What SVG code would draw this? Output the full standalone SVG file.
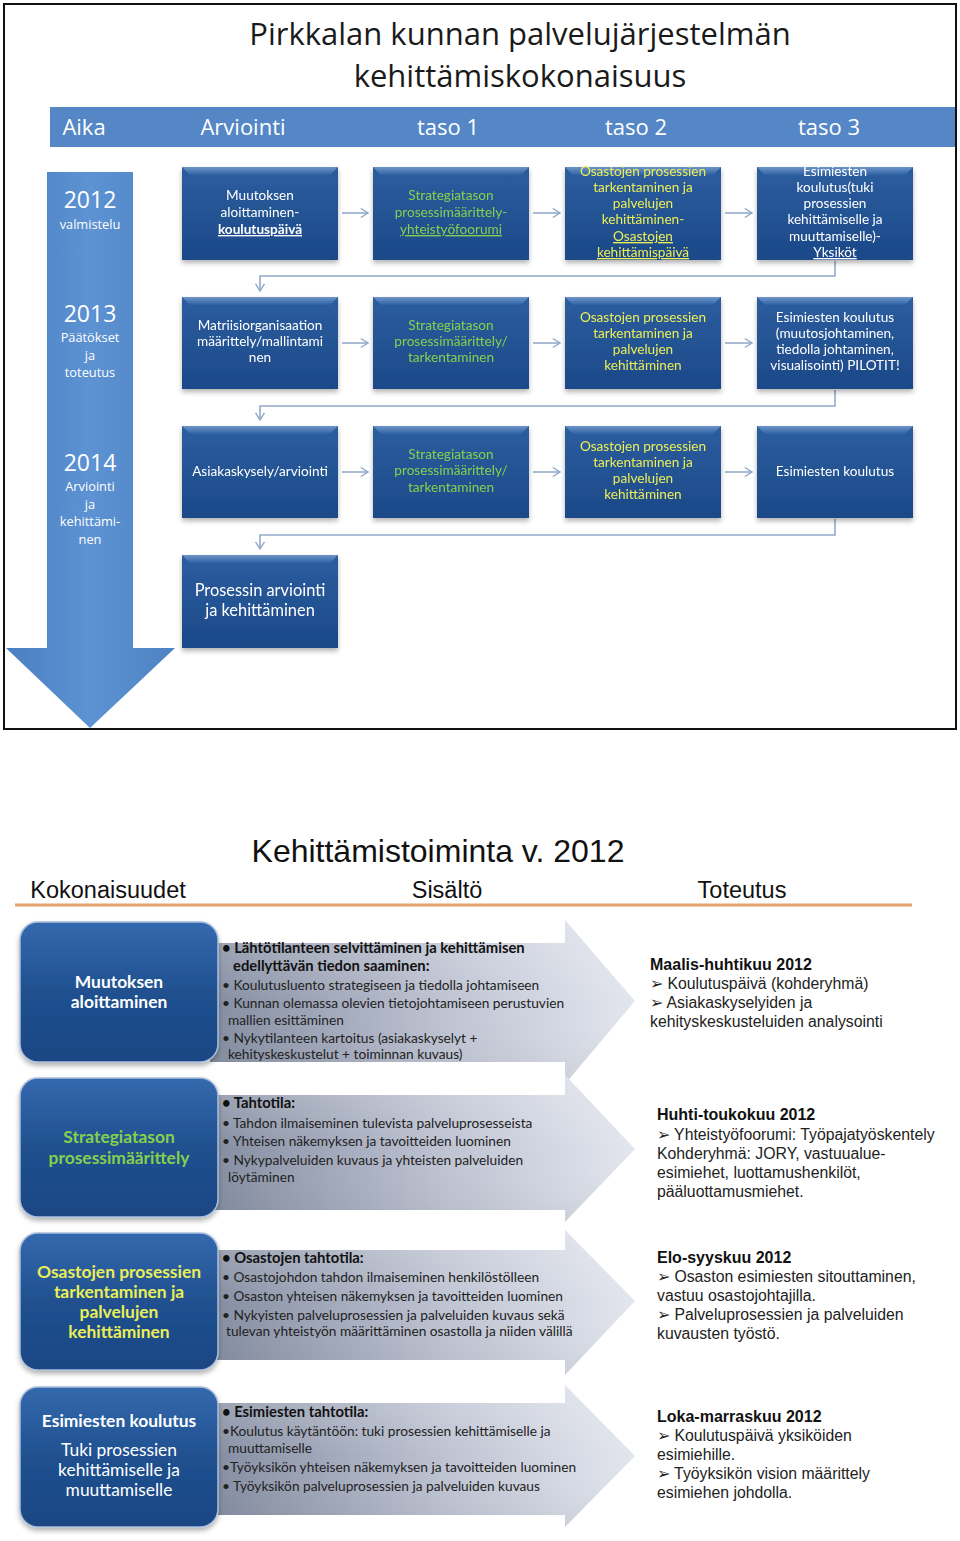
<svg xmlns="http://www.w3.org/2000/svg" width="960" height="1541" viewBox="0 0 960 1541">
<style>
.title{font-family:"Open Sans","Lato",sans-serif;font-size:31px;fill:#1a1a1a;text-anchor:middle}
.hdr{font-family:"Open Sans","Lato",sans-serif;font-size:22px;fill:#ffffff;text-anchor:middle}
.yr{font-family:"Open Sans","Lato",sans-serif;font-size:23px;fill:#ffffff;text-anchor:middle}
.yrs{font-family:"Open Sans","Lato",sans-serif;font-size:12.8px;fill:#ffffff;text-anchor:middle}
.bt{font-family:"Lato","Open Sans",sans-serif;font-size:13.6px;text-anchor:middle}
.big{font-size:16.4px}
.w{fill:#ffffff}.g{fill:#86cf4e}.y{fill:#ebee57}
.u{text-decoration:underline}
.conn{fill:none;stroke:#93aacb;stroke-width:1.6}
.t2{font-family:"Liberation Sans",Arial,sans-serif;fill:#111111}
.col{font-family:"Liberation Sans",Arial,sans-serif;font-size:23.5px;fill:#111;text-anchor:middle}
.at{font-family:"Lato","Open Sans",sans-serif;font-size:13.7px;fill:#222}
.ab{font-family:"Lato","Open Sans",sans-serif;font-size:14.8px;font-weight:bold;fill:#111}
.rt{font-family:"Liberation Sans",Arial,sans-serif;font-size:15.8px;fill:#222}
.rb{font-family:"Liberation Sans",Arial,sans-serif;font-size:16px;font-weight:bold;fill:#111}
.lb{font-family:"Lato","Open Sans",sans-serif;font-size:17.4px;font-weight:bold;text-anchor:middle}
.lbn{font-family:"Lato","Open Sans",sans-serif;font-size:17.4px;text-anchor:middle;fill:#fff}
</style>
<defs>
<linearGradient id="boxg" x1="0" y1="0" x2="0" y2="1">
<stop offset="0" stop-color="#2c5e9f"/><stop offset="1" stop-color="#1c4888"/>
</linearGradient>
<linearGradient id="bev" x1="0" y1="0" x2="0" y2="1">
<stop offset="0" stop-color="#6e95c8"/><stop offset="1" stop-color="#2f62a3"/>
</linearGradient>
<linearGradient id="vg" x1="0" y1="0" x2="1" y2="0">
<stop offset="0" stop-color="#4a7fc1"/><stop offset="0.5" stop-color="#5d92d3"/><stop offset="1" stop-color="#4d82c3"/>
</linearGradient>
<linearGradient id="rbox" x1="0" y1="0" x2="0" y2="1">
<stop offset="0" stop-color="#3469ae"/><stop offset="0.5" stop-color="#20508f"/><stop offset="1" stop-color="#1b4684"/>
</linearGradient>
<linearGradient id="arr" gradientUnits="userSpaceOnUse" x1="218" y1="0" x2="635" y2="0">
<stop offset="0" stop-color="#868fa3"/><stop offset="0.55" stop-color="#bfc4d3"/><stop offset="1" stop-color="#e3e6ee"/>
</linearGradient>
<linearGradient id="sheen" x1="0" y1="0" x2="0" y2="1">
<stop offset="0" stop-color="#ffffff" stop-opacity="0.25"/><stop offset="0.5" stop-color="#ffffff" stop-opacity="0"/><stop offset="1" stop-color="#000000" stop-opacity="0.05"/>
</linearGradient>
<filter id="sh" x="-10%" y="-10%" width="120%" height="130%">
<feDropShadow dx="0" dy="3" stdDeviation="2.5" flood-color="#000" flood-opacity="0.3"/>
</filter>
<marker id="chev" viewBox="0 0 10 12" refX="9" refY="6" markerWidth="9" markerHeight="11" orient="auto" markerUnits="userSpaceOnUse">
<path d="M1,1 L9,6 L1,11" fill="none" stroke="#93aacb" stroke-width="1.6"/>
</marker>
</defs>
<rect width="960" height="1541" fill="#ffffff"/>

<!-- TOP PANEL -->
<rect x="4" y="4" width="952" height="725" fill="#ffffff" stroke="#111" stroke-width="2"/>
<text class="title" x="520" y="45">Pirkkalan kunnan palvelujärjestelmän</text>
<text class="title" x="520" y="87">kehittämiskokonaisuus</text>

<g id="header">
<rect x="50" y="107" width="905" height="40" fill="#5586c6"/>
<text class="hdr" x="84" y="135">Aika</text>
<text class="hdr" x="243" y="135">Arviointi</text>
<text class="hdr" x="448" y="135">taso 1</text>
<text class="hdr" x="636" y="135">taso 2</text>
<text class="hdr" x="829" y="135">taso 3</text>
</g>

<g id="timeline">
<polygon points="47,172 133,172 133,648 175,648 90,728 6,648 47,648" fill="url(#vg)"/>
<text class="yr" x="90" y="208">2012</text>
<text class="yrs" x="90" y="229">valmistelu</text>
<text class="yr" x="90" y="322">2013</text>
<text class="yrs" x="90" y="342">Päätökset</text>
<text class="yrs" x="90" y="360">ja</text>
<text class="yrs" x="90" y="377">toteutus</text>
<text class="yr" x="90" y="471">2014</text>
<text class="yrs" x="90" y="491">Arviointi</text>
<text class="yrs" x="90" y="509">ja</text>
<text class="yrs" x="90" y="526">kehittämi-</text>
<text class="yrs" x="90" y="544">nen</text>
</g>

<g id="connectors">
<line class="conn" x1="342" y1="213" x2="368" y2="213" marker-end="url(#chev)"/>
<line class="conn" x1="533" y1="213" x2="560" y2="213" marker-end="url(#chev)"/>
<line class="conn" x1="725" y1="213" x2="752" y2="213" marker-end="url(#chev)"/>
<line class="conn" x1="342" y1="343" x2="368" y2="343" marker-end="url(#chev)"/>
<line class="conn" x1="533" y1="343" x2="560" y2="343" marker-end="url(#chev)"/>
<line class="conn" x1="725" y1="343" x2="752" y2="343" marker-end="url(#chev)"/>
<line class="conn" x1="342" y1="472" x2="368" y2="472" marker-end="url(#chev)"/>
<line class="conn" x1="533" y1="472" x2="560" y2="472" marker-end="url(#chev)"/>
<line class="conn" x1="725" y1="472" x2="752" y2="472" marker-end="url(#chev)"/>
<path class="conn" d="M835,261 V276 H260 V291" marker-end="url(#chev)"/>
<path class="conn" d="M835,390 V406 H260 V420" marker-end="url(#chev)"/>
<path class="conn" d="M835,519 V535 H260 V549" marker-end="url(#chev)"/>
</g>

<!-- Row 1 -->
<g id="n11" filter="url(#sh)">
<rect x="182" y="167" width="156" height="93" fill="url(#boxg)"/>
<polygon points="182,167 338,167 330,175 190,175" fill="url(#bev)"/>
<text class="bt w" x="260" y="200">Muutoksen</text>
<text class="bt w" x="260" y="217">aloittaminen-</text>
<text class="bt w u" x="260" y="234" font-weight="bold">koulutuspäivä</text>
</g>
<g id="n12" filter="url(#sh)">
<rect x="373" y="167" width="156" height="93" fill="url(#boxg)"/>
<polygon points="373,167 529,167 521,175 381,175" fill="url(#bev)"/>
<text class="bt g" x="451" y="200">Strategiatason</text>
<text class="bt g" x="451" y="217">prosessimäärittely-</text>
<text class="bt g u" x="451" y="234">yhteistyöfoorumi</text>
</g>
<g id="n13" filter="url(#sh)">
<rect x="565" y="167" width="156" height="93" fill="url(#boxg)"/>
<polygon points="565,167 721,167 713,175 573,175" fill="url(#bev)"/>
<text class="bt y" x="643" y="176">Osastojen prosessien</text>
<text class="bt y" x="643" y="192">tarkentaminen ja</text>
<text class="bt y" x="643" y="208">palvelujen</text>
<text class="bt y" x="643" y="224">kehittäminen-</text>
<text class="bt y u" x="643" y="241">Osastojen</text>
<text class="bt y u" x="643" y="257">kehittämispäivä</text>
</g>
<g id="n14" filter="url(#sh)">
<rect x="757" y="167" width="156" height="93" fill="url(#boxg)"/>
<polygon points="757,167 913,167 905,175 765,175" fill="url(#bev)"/>
<text class="bt w" x="835" y="176">Esimiesten</text>
<text class="bt w" x="835" y="192">koulutus(tuki</text>
<text class="bt w" x="835" y="208">prosessien</text>
<text class="bt w" x="835" y="224">kehittämiselle ja</text>
<text class="bt w" x="835" y="241">muuttamiselle)-</text>
<text class="bt w u" x="835" y="257">Yksiköt</text>
</g>

<!-- Row 2 -->
<g id="n21" filter="url(#sh)">
<rect x="182" y="297" width="156" height="92" fill="url(#boxg)"/>
<polygon points="182,297 338,297 330,305 190,305" fill="url(#bev)"/>
<text class="bt w" x="260" y="330">Matriisiorganisaation</text>
<text class="bt w" x="260" y="346">määrittely/mallintami</text>
<text class="bt w" x="260" y="362">nen</text>
</g>
<g id="n22" filter="url(#sh)">
<rect x="373" y="297" width="156" height="92" fill="url(#boxg)"/>
<polygon points="373,297 529,297 521,305 381,305" fill="url(#bev)"/>
<text class="bt g" x="451" y="330">Strategiatason</text>
<text class="bt g" x="451" y="346">prosessimäärittely/</text>
<text class="bt g" x="451" y="362">tarkentaminen</text>
</g>
<g id="n23" filter="url(#sh)">
<rect x="565" y="297" width="156" height="92" fill="url(#boxg)"/>
<polygon points="565,297 721,297 713,305 573,305" fill="url(#bev)"/>
<text class="bt y" x="643" y="322">Osastojen prosessien</text>
<text class="bt y" x="643" y="338">tarkentaminen ja</text>
<text class="bt y" x="643" y="354">palvelujen</text>
<text class="bt y" x="643" y="370">kehittäminen</text>
</g>
<g id="n24" filter="url(#sh)">
<rect x="757" y="297" width="156" height="92" fill="url(#boxg)"/>
<polygon points="757,297 913,297 905,305 765,305" fill="url(#bev)"/>
<text class="bt w" x="835" y="322">Esimiesten koulutus</text>
<text class="bt w" x="835" y="338">(muutosjohtaminen,</text>
<text class="bt w" x="835" y="354">tiedolla johtaminen,</text>
<text class="bt w" x="835" y="370">visualisointi) PILOTIT!</text>
</g>

<!-- Row 3 -->
<g id="n31" filter="url(#sh)">
<rect x="182" y="426" width="156" height="92" fill="url(#boxg)"/>
<polygon points="182,426 338,426 330,434 190,434" fill="url(#bev)"/>
<text class="bt w" x="260" y="476">Asiakaskysely/arviointi</text>
</g>
<g id="n32" filter="url(#sh)">
<rect x="373" y="426" width="156" height="92" fill="url(#boxg)"/>
<polygon points="373,426 529,426 521,434 381,434" fill="url(#bev)"/>
<text class="bt g" x="451" y="459">Strategiatason</text>
<text class="bt g" x="451" y="475">prosessimäärittely/</text>
<text class="bt g" x="451" y="492">tarkentaminen</text>
</g>
<g id="n33" filter="url(#sh)">
<rect x="565" y="426" width="156" height="92" fill="url(#boxg)"/>
<polygon points="565,426 721,426 713,434 573,434" fill="url(#bev)"/>
<text class="bt y" x="643" y="451">Osastojen prosessien</text>
<text class="bt y" x="643" y="467">tarkentaminen ja</text>
<text class="bt y" x="643" y="483">palvelujen</text>
<text class="bt y" x="643" y="499">kehittäminen</text>
</g>
<g id="n34" filter="url(#sh)">
<rect x="757" y="426" width="156" height="92" fill="url(#boxg)"/>
<polygon points="757,426 913,426 905,434 765,434" fill="url(#bev)"/>
<text class="bt w" x="835" y="476">Esimiesten koulutus</text>
</g>

<!-- Row 4 -->
<g id="n41" filter="url(#sh)">
<rect x="182" y="555" width="156" height="93" fill="url(#boxg)"/>
<polygon points="182,555 338,555 330,563 190,563" fill="url(#bev)"/>
<text class="bt big w" x="260" y="596">Prosessin arviointi</text>
<text class="bt big w" x="260" y="616">ja kehittäminen</text>
</g>

<!-- BOTTOM PANEL -->
<text class="t2" x="438" y="862" font-size="32" text-anchor="middle">Kehittämistoiminta v. 2012</text>
<text class="col" x="108" y="898">Kokonaisuudet</text>
<text class="col" x="447" y="898">Sisältö</text>
<text class="col" x="742" y="898">Toteutus</text>
<line x1="15" y1="905" x2="912" y2="905" stroke="#e2a46c" stroke-width="3"/>

<!-- Row A -->
<g id="rowA">
<polygon points="210,943 565,943 565,920 635,1001 565,1084 565,1062 210,1062" fill="url(#arr)"/>
<polygon points="210,943 565,943 565,920 635,1001 565,1084 565,1062 210,1062" fill="url(#sheen)"/>
<rect x="20" y="922" width="198" height="140" rx="18" fill="url(#rbox)" stroke="#a9bedb" stroke-width="1.5" filter="url(#sh)"/>
<text class="lb w" x="119" y="988">Muutoksen</text>
<text class="lb w" x="119" y="1008">aloittaminen</text>
<text class="ab" x="222" y="953">• Lähtötilanteen selvittäminen ja kehittämisen</text>
<text class="ab" x="233" y="971">edellyttävän tiedon saaminen:</text>
<text class="at" x="222" y="990">• Koulutusluento strategiseen ja tiedolla johtamiseen</text>
<text class="at" x="222" y="1008">• Kunnan olemassa olevien tietojohtamiseen perustuvien</text>
<text class="at" x="228" y="1025">mallien esittäminen</text>
<text class="at" x="222" y="1043">• Nykytilanteen kartoitus (asiakaskyselyt +</text>
<text class="at" x="228" y="1059">kehityskeskustelut + toiminnan kuvaus)</text>
<text class="rb" x="650" y="970">Maalis-huhtikuu 2012</text>
<text class="rt" x="650" y="989">➢ Koulutuspäivä (kohderyhmä)</text>
<text class="rt" x="650" y="1008">➢ Asiakaskyselyiden ja</text>
<text class="rt" x="650" y="1027">kehityskeskusteluiden analysointi</text>
</g>

<!-- Row B -->
<g id="rowB">
<polygon points="210,1095 565,1095 565,1075 635,1149 565,1222 565,1210 210,1210" fill="url(#arr)"/>
<polygon points="210,1095 565,1095 565,1075 635,1149 565,1222 565,1210 210,1210" fill="url(#sheen)"/>
<rect x="20" y="1078" width="198" height="139" rx="18" fill="url(#rbox)" stroke="#a9bedb" stroke-width="1.5" filter="url(#sh)"/>
<text class="lb g" x="119" y="1143" fill="#8ed24f">Strategiatason</text>
<text class="lb g" x="119" y="1164" fill="#8ed24f">prosessimäärittely</text>
<text class="ab" x="222" y="1108">• Tahtotila:</text>
<text class="at" x="222" y="1128">• Tahdon ilmaiseminen tulevista palveluprosesseista</text>
<text class="at" x="222" y="1146">• Yhteisen näkemyksen ja tavoitteiden luominen</text>
<text class="at" x="222" y="1165">• Nykypalveluiden kuvaus ja yhteisten palveluiden</text>
<text class="at" x="228" y="1182">löytäminen</text>
<text class="rb" x="657" y="1120">Huhti-toukokuu 2012</text>
<text class="rt" x="657" y="1140">➢ Yhteistyöfoorumi: Työpajatyöskentely</text>
<text class="rt" x="657" y="1159">Kohderyhmä: JORY, vastuualue-</text>
<text class="rt" x="657" y="1178">esimiehet, luottamushenkilöt,</text>
<text class="rt" x="657" y="1197">pääluottamusmiehet.</text>
</g>

<!-- Row C -->
<g id="rowC">
<polygon points="210,1250 565,1250 565,1230 635,1301 565,1375 565,1360 210,1360" fill="url(#arr)"/>
<polygon points="210,1250 565,1250 565,1230 635,1301 565,1375 565,1360 210,1360" fill="url(#sheen)"/>
<rect x="20" y="1233" width="198" height="137" rx="18" fill="url(#rbox)" stroke="#a9bedb" stroke-width="1.5" filter="url(#sh)"/>
<text class="lb y" x="119" y="1278" fill="#f2f24c">Osastojen prosessien</text>
<text class="lb y" x="119" y="1298" fill="#f2f24c">tarkentaminen ja</text>
<text class="lb y" x="119" y="1318" fill="#f2f24c">palvelujen</text>
<text class="lb y" x="119" y="1338" fill="#f2f24c">kehittäminen</text>
<text class="ab" x="222" y="1263">• Osastojen tahtotila:</text>
<text class="at" x="222" y="1282">• Osastojohdon tahdon ilmaiseminen henkilöstölleen</text>
<text class="at" x="222" y="1301">• Osaston yhteisen näkemyksen ja tavoitteiden luominen</text>
<text class="at" x="222" y="1320">• Nykyisten palveluprosessien ja palveluiden kuvaus sekä</text>
<text class="at" x="226" y="1336">tulevan yhteistyön määrittäminen osastolla ja niiden välillä</text>
<text class="rb" x="657" y="1263">Elo-syyskuu 2012</text>
<text class="rt" x="657" y="1282">➢ Osaston esimiesten sitouttaminen,</text>
<text class="rt" x="657" y="1301">vastuu osastojohtajilla.</text>
<text class="rt" x="657" y="1320">➢ Palveluprosessien ja palveluiden</text>
<text class="rt" x="657" y="1339">kuvausten työstö.</text>
</g>

<!-- Row D -->
<g id="rowD">
<polygon points="210,1403 565,1403 565,1385 635,1456 565,1527 565,1515 210,1515" fill="url(#arr)"/>
<polygon points="210,1403 565,1403 565,1385 635,1456 565,1527 565,1515 210,1515" fill="url(#sheen)"/>
<rect x="20" y="1387" width="198" height="140" rx="18" fill="url(#rbox)" stroke="#a9bedb" stroke-width="1.5" filter="url(#sh)"/>
<text class="lb w" x="119" y="1427">Esimiesten koulutus</text>
<text class="lbn" x="119" y="1456">Tuki prosessien</text>
<text class="lbn" x="119" y="1476">kehittämiselle ja</text>
<text class="lbn" x="119" y="1496">muuttamiselle</text>
<text class="ab" x="222" y="1417">• Esimiesten tahtotila:</text>
<text class="at" x="222" y="1436">•Koulutus käytäntöön: tuki prosessien kehittämiselle ja</text>
<text class="at" x="228" y="1453">muuttamiselle</text>
<text class="at" x="222" y="1472">•Työyksikön yhteisen näkemyksen ja tavoitteiden luominen</text>
<text class="at" x="222" y="1491">• Työyksikön palveluprosessien ja palveluiden kuvaus</text>
<text class="rb" x="657" y="1422">Loka-marraskuu 2012</text>
<text class="rt" x="657" y="1441">➢ Koulutuspäivä yksiköiden</text>
<text class="rt" x="657" y="1460">esimiehille.</text>
<text class="rt" x="657" y="1479">➢ Työyksikön vision määrittely</text>
<text class="rt" x="657" y="1498">esimiehen johdolla.</text>
</g>
</svg>
